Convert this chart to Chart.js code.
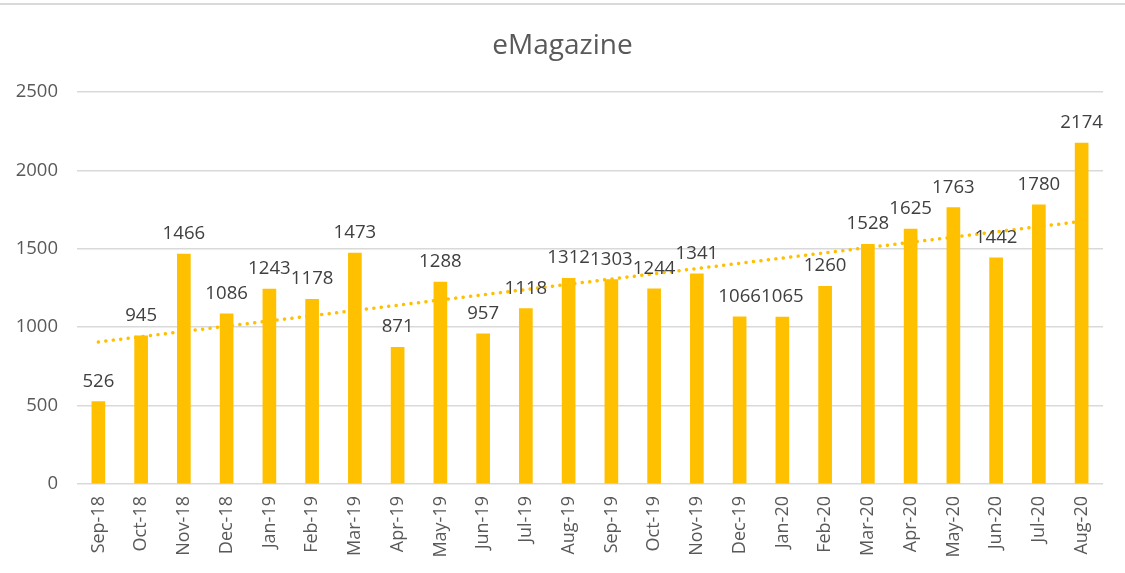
<!DOCTYPE html>
<html>
<head>
<meta charset="utf-8">
<script src="https://cdn.jsdelivr.net/npm/chart.js@4/dist/chart.umd.min.js"></script>
<style>
  html, body { margin: 0; padding: 0; background: #fff; }
  #wrap { width: 1125px; height: 573px; position: relative; }
</style>
</head>
<body>
<div id="wrap"><canvas id="chart"></canvas></div>
<script>
// data
const months = ['Sep-18', 'Oct-18', 'Nov-18', 'Dec-18', 'Jan-19', 'Feb-19', 'Mar-19', 'Apr-19',
  'May-19', 'Jun-19', 'Jul-19', 'Aug-19', 'Sep-19', 'Oct-19', 'Nov-19', 'Dec-19',
  'Jan-20', 'Feb-20', 'Mar-20', 'Apr-20', 'May-20', 'Jun-20', 'Jul-20', 'Aug-20'];
const views = [526, 945, 1466, 1086, 1243, 1178, 1473, 871, 1288, 957, 1118, 1312,
  1303, 1244, 1341, 1066, 1065, 1260, 1528, 1625, 1763, 1442, 1780, 2174];
// dotted trendline, start and end value as seen in the picture
const trendEnds = [906, 1675];
const yTicks = [0, 500, 1000, 1500, 2000, 2500];

const FONT = '"Open Sans", "Noto Sans", sans-serif';
const GOLD = '#FFC000';

const trendData = months.map((m, i) => {
  if (i === 0) return trendEnds[0];
  if (i === months.length - 1) return trendEnds[1];
  return null;
});

// top frame line + title
const frame = {
  id: 'frame',
  beforeDraw(chart) {
    const c = chart.ctx;
    c.save();
    c.fillStyle = '#d9d9d9';
    c.fillRect(0, 3, chart.width, 2);
    c.fillStyle = '#595959';
    c.font = '28px ' + FONT;
    c.textAlign = 'center';
    c.textBaseline = 'alphabetic';
    c.fillText('eMagazine', chart.width / 2, 54);
    c.restore();
  }
};

// value labels above bars
const barLabels = {
  id: 'barLabels',
  afterDatasetsDraw(chart) {
    const c = chart.ctx;
    const meta = chart.getDatasetMeta(0);
    c.save();
    c.fillStyle = '#404040';
    c.font = '18.6px ' + FONT;
    c.textAlign = 'center';
    c.textBaseline = 'alphabetic';
    meta.data.forEach((bar, i) => {
      c.fillText(String(views[i]), bar.x, bar.y - 15);
    });
    c.restore();
  }
};

new Chart(document.getElementById('chart'), {
  data: {
    labels: months,
    datasets: [
      {
        type: 'bar',
        label: 'eMagazine',
        data: views,
        backgroundColor: GOLD,
        barThickness: 13,
        order: 2
      },
      {
        type: 'line',
        label: 'Trend',
        data: trendData,
        spanGaps: true,
        borderColor: GOLD,
        borderWidth: 3.5,
        borderDash: [0.1, 7.4],
        borderCapStyle: 'round',
        pointRadius: 0,
        fill: false,
        order: 1
      }
    ]
  },
  options: {
    responsive: true,
    maintainAspectRatio: false,
    animation: false,
    layout: { padding: { left: 0, right: 22, top: 92, bottom: 0 } },
    plugins: {
      legend: { display: false },
      tooltip: { enabled: false },
      title: { display: false }
    },
    scales: {
      x: {
        grid: { display: false, drawTicks: false },
        border: { display: false },
        ticks: {
          color: '#595959',
          font: { family: FONT, size: 18 },
          minRotation: 90,
          maxRotation: 90,
          padding: 12,
          autoSkip: false
        },
        afterFit(scale) { scale.height = 89; }
      },
      y: {
        min: 0,
        max: 2500,
        afterBuildTicks(scale) { scale.ticks = yTicks.map(v => ({ value: v })); },
        grid: { color: '#d9d9d9', lineWidth: 1.5, drawTicks: false },
        border: { display: false },
        ticks: {
          color: '#595959',
          font: { family: FONT, size: 18.5 },
          padding: 19,
          callback: (v) => String(v)
        },
        afterFit(scale) { scale.width = 77; }
      }
    }
  },
  plugins: [frame, barLabels]
});
</script>
</body>
</html>
